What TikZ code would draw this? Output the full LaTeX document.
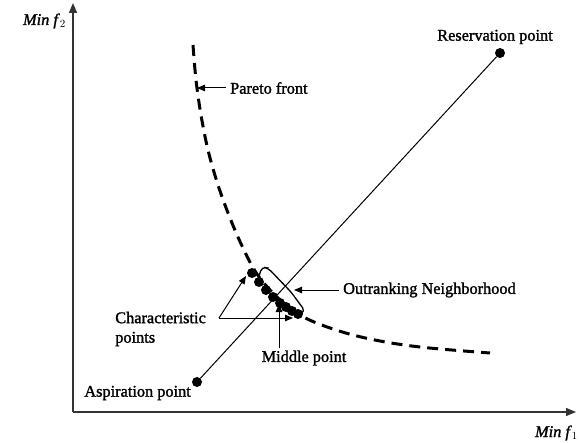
\documentclass[tikz,border=0pt]{standalone}
\usepackage{fontspec}
\setmainfont{Liberation Serif}[FakeBold=1.5]
\usetikzlibrary{arrows.meta}
\begin{document}
\begin{tikzpicture}[x=1pt,y=-1pt,
  lbl/.style={font=\fontsize{16.3}{19.5}\selectfont, inner sep=0pt},
  dot/.style={circle, fill=black, inner sep=0pt, minimum size=10pt},
  bigdot/.style={circle, fill=black, inner sep=0pt, minimum size=10pt},
  ptr/.style={line width=1pt, -{Triangle[length=8pt,width=6.5pt]}},
  axis/.style={line width=1.3pt, draw=black!80, -{Triangle[length=10pt,width=8pt]}}]
\useasboundingbox (0,0) rectangle (580,443);
% axes
\coordinate (O) at (73,412);
\coordinate (Ytop) at (73,3);
\coordinate (Xend) at (576,412);
\draw[axis] (O) -- (Ytop);
\draw[axis] (O) -- (Xend);
\node[lbl, anchor=east] (ylab) at (66,21) {\textit{Min f}$_2$};
\node[lbl, anchor=east] (xlab) at (578,433) {\textit{Min f}$_1$};
% Pareto front
\draw[line width=3pt, dash pattern=on 11pt off 7pt]
  plot[smooth, tension=0.6] coordinates {(193,45) (196,80) (201,115) (208,150) (218,185) (230,218) (243,248) (257,274) (275,295) (298,314) (330,328) (370,339) (420,347) (490,353)};
% aspiration-reservation line
\node[bigdot] (asp) at (197,382) {};
\node[bigdot] (res) at (500,53) {};
\draw[line width=1pt] (asp) -- (res);
\node[lbl, anchor=east] (asptxt) at (191,393) {Aspiration point};
\node[lbl] (restxt) at (495,37) {Reservation point};
% characteristic dots
\node[dot] (d1) at (252,273) {};
\node[dot] (d2) at (259,282) {};
\node[dot] (d3) at (266,290) {};
\node[dot] (d4) at (273,297) {};
\node[dot] (d5) at (280,303) {};
\node[dot] (d6) at (286,307) {};
\node[dot] (d7) at (292,311) {};
\node[dot] (d8) at (298,314) {};
% bracket
\draw[line width=1.3pt, rounded corners=4pt] (259,276) -- (262,267) -- (268,268) -- (291,292) -- (305,311) -- (297,317);
% Pareto label
\node[lbl, anchor=west] (partxt) at (230,88) {Pareto front};
\coordinate (parpt) at (197,88);
\draw[ptr] (partxt.west) ++(-4,0) -- (parpt);
% Outranking
\node[lbl, anchor=west] (outtxt) at (343,290) {Outranking Neighborhood};
\coordinate (outpt) at (294,290);
\draw[ptr] (outtxt.west) ++(-4,0) -- (outpt);
% Characteristic points
\node[lbl, align=left, anchor=east] (chartxt) at (206,329) {Characteristic\\points};
\coordinate (cfork) at (219,318);
\coordinate (c1) at (246,276);
\coordinate (c2) at (293,318);
\draw[ptr] (cfork) -- (c1);
\draw[ptr] (cfork) -- (c2);
% Middle point
\node[lbl] (midtxt) at (304,358) {Middle point};
\coordinate (midbase) at (279,348);
\coordinate (midpt) at (279,304);
\draw[ptr] (midbase) -- (midpt);
\end{tikzpicture}
\end{document}
